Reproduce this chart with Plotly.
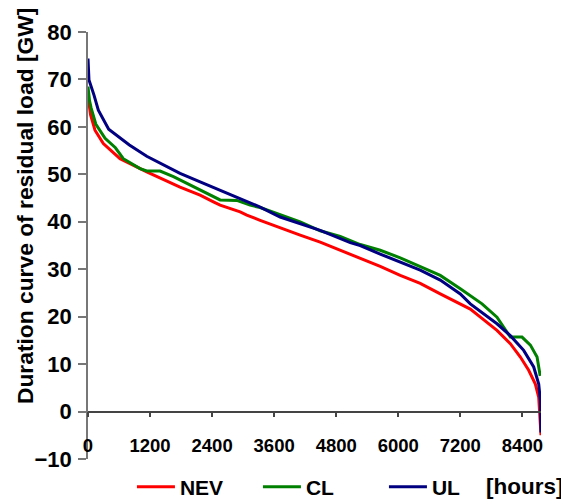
import plotly.graph_objects as go

# Duration curves of residual load (hours sorted, GW)
nev_hours = [0, 20, 50, 135, 296, 619, 1136, 1780, 2168, 2425, 2555, 2942, 3071, 3329, 3716,
             4103, 4490, 4877, 5264, 5651, 6038, 6425, 6812, 7200, 7393, 7600, 7909, 8167,
             8361, 8522, 8651, 8716, 8735, 8760]
nev_gw = [66.5, 64.5, 62.5, 59.3, 56.5, 53.3, 50.5, 47.3, 45.6, 44.2, 43.5, 42.1, 41.4, 40.3, 38.7,
          37.2, 35.7, 34.0, 32.4, 30.6, 28.7, 27.0, 24.8, 22.7, 21.6, 19.8, 17.1, 14.3,
          11.5, 8.7, 5.8, 3.0, -0.4, -5.0]

cl_hours = [0, 30, 60, 150, 330, 530, 683, 1006, 1136, 1394, 1652, 2104, 2168, 2555, 2877,
            3135, 3329, 3716, 4103, 4490, 4877, 5264, 5651, 6038, 6425, 6812, 7200, 7393,
            7620, 7909, 8100, 8167, 8393, 8555, 8684, 8720, 8745]
cl_gw = [68.5, 65.5, 64.0, 60.6, 57.6, 55.6, 53.3, 51.2, 50.7, 50.7, 49.5, 47.0, 46.6, 44.6, 44.5,
         43.5, 43.0, 41.5, 40.0, 38.1, 36.9, 35.2, 34.0, 32.4, 30.5, 28.7, 25.9, 24.5,
         22.7, 19.9, 16.8, 15.7, 15.7, 14.0, 11.5, 9.4, 7.5]

ul_hours = [0, 5, 19, 116, 200, 400, 800, 1136, 1780, 2168, 2425, 2812, 3071, 3329, 3716,
            3910, 4490, 5071, 5264, 5651, 6038, 6425, 6812, 7200, 7393, 7620, 7909, 8167,
            8425, 8619, 8716, 8748, 8760]
ul_gw = [74.4, 70.5, 69.9, 66.7, 63.5, 59.5, 56.2, 53.8, 50.2, 48.4, 47.2, 45.4, 44.2, 43.1, 41.0,
         40.3, 38.2, 35.6, 35.0, 33.2, 31.5, 29.8, 27.7, 24.8, 22.7, 20.8, 18.5, 16.0,
         12.9, 9.4, 5.8, 2.3, -4.4]

x_ticks = [0, 1200, 2400, 3600, 4800, 6000, 7200, 8400]
y_ticks = [-10, 0, 10, 20, 30, 40, 50, 60, 70, 80]

FONT = "Arial, Liberation Sans, sans-serif"

fig = go.Figure()
fig.add_trace(go.Scatter(x=nev_hours, y=nev_gw, mode="lines", name="NEV",
                         line=dict(color="#FF0000", width=3)))
fig.add_trace(go.Scatter(x=cl_hours, y=cl_gw, mode="lines", name="CL",
                         line=dict(color="#008000", width=3)))
fig.add_trace(go.Scatter(x=ul_hours, y=ul_gw, mode="lines", name="UL",
                         line=dict(color="#000080", width=3)))

fig.update_layout(
    width=561, height=493, autosize=False,
    margin=dict(l=80, r=28, t=24, b=42, autoexpand=False),
    paper_bgcolor="white", plot_bgcolor="white",
    font=dict(family=FONT, color="black"),
    showlegend=True,
    legend=dict(orientation="h", x=0.097, xanchor="left", y=-0.066, yanchor="middle",
                font=dict(family=FONT, size=21, weight="bold", color="black"),
                entrywidth=73, entrywidthmode="pixels", itemwidth=38,
                bgcolor="rgba(0,0,0,0)", tracegroupgap=0),
    xaxis=dict(range=[0, 8760], tickvals=x_ticks, ticktext=[str(v) for v in x_ticks],
               showgrid=False, zeroline=False, showline=True, linecolor="#444", linewidth=1.5,
               ticks="outside", ticklen=5, tickcolor="#444", tickwidth=1.5,
               anchor="free", position=10 / 90, ticklabelstandoff=12,
               tickfont=dict(family=FONT, size=18.5, weight="bold", color="black")),
    yaxis=dict(range=[-10, 80], tickvals=y_ticks, showgrid=False, zeroline=False,
               showline=True, linecolor="#777", linewidth=1.5,
               ticks="outside", ticklen=8, tickcolor="#777", tickwidth=1.5,
               ticklabelstandoff=2,
               tickfont=dict(family=FONT, size=22, weight="bold", color="black")),
    annotations=[
        dict(text="Duration curve of residual load [GW]", textangle=-90,
             xref="paper", yref="paper", x=-0.139, y=0.5925,
             xanchor="center", yanchor="middle", showarrow=False,
             font=dict(family=FONT, size=22.8, weight="bold", color="black")),
        dict(text="[hours]", xref="paper", yref="paper", x=0.965, y=-0.064,
             xanchor="center", yanchor="middle", showarrow=False,
             font=dict(family=FONT, size=22.5, weight="bold", color="black")),
    ],
)

fig.write_html("out.html")
